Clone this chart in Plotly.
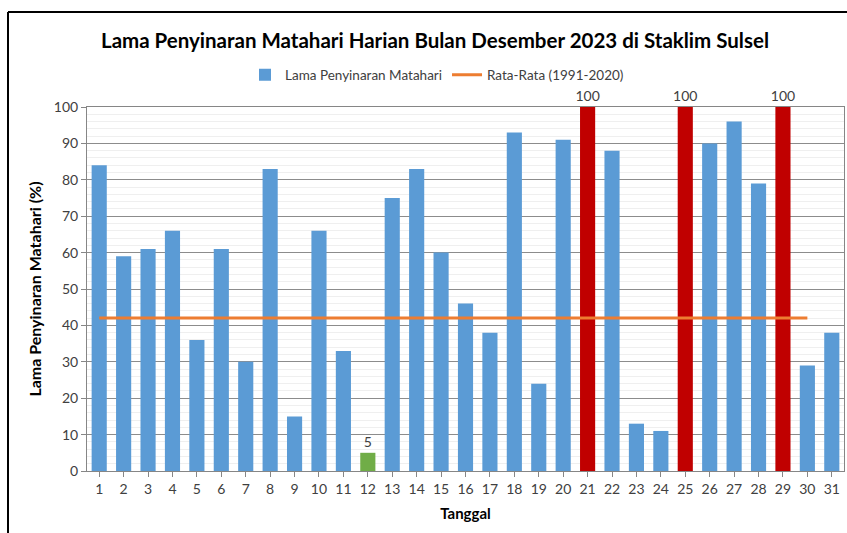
import plotly.graph_objects as go

# data
tanggal = list(range(1, 32))
penyinaran = [84, 59, 61, 66, 36, 61, 30, 83, 15, 66, 33, 5, 75, 83, 60, 46,
              38, 93, 24, 91, 100, 88, 13, 11, 100, 90, 96, 79, 100, 29, 38]
rata_tanggal = list(range(1, 31))
rata_rata = [42, 42, 42, 42, 42, 42, 42, 42, 42, 42, 42, 42, 42, 42, 42,
             42, 42, 42, 42, 42, 42, 42, 42, 42, 42, 42, 42, 42, 42, 42]

BLUE = "#5B9BD5"
RED = "#C00000"
GREEN = "#70AD47"
ORANGE = "#ED7D31"
FONT = "Lato, Open Sans, sans-serif"

lowest = min(penyinaran)
colors = []
labels = []
for v in penyinaran:
    if v == 100:
        colors.append(RED)
        labels.append(str(v))
    elif v == lowest:
        colors.append(GREEN)
        labels.append(str(v))
    else:
        colors.append(BLUE)
        labels.append("")

fig = go.Figure()
fig.add_trace(go.Bar(
    x=tanggal, y=penyinaran, name="Lama Penyinaran Matahari",
    marker=dict(color=colors, line=dict(width=0)),
    text=labels, textposition="outside", cliponaxis=False, constraintext="none",
    textfont=dict(size=14, color="#404040", family=FONT),
))
fig.add_trace(go.Scatter(
    x=rata_tanggal, y=rata_rata, mode="lines", name="Rata-Rata (1991-2020)",
    line=dict(color=ORANGE, width=3),
))

W, H = 847, 533
L, R, T, B = 87, 3, 107, 62
pw, ph = W - L - R, H - T - B

def px_x(p):
    return (p - L) / pw

def px_y(p):
    return (H - B - p) / ph

fig.update_layout(
    width=W, height=H,
    margin=dict(l=L, r=R, t=T, b=B, autoexpand=False),
    paper_bgcolor="white", plot_bgcolor="white",
    font=dict(family=FONT, size=13, color="#404040"),
    bargap=0.38,
    showlegend=True,
    title=dict(
        text="<b>Lama Penyinaran Matahari Harian Bulan Desember 2023 di Staklim Sulsel</b>",
        x=435 / W, xanchor="center", y=1 - 41 / H, yanchor="middle",
        font=dict(size=20.5, color="black", family=FONT),
    ),
    legend=dict(
        orientation="h", x=px_x(437), xanchor="center", y=px_y(75), yanchor="middle",
        font=dict(size=13.5, color="#404040"), bgcolor="rgba(0,0,0,0)",
        itemwidth=30,
    ),
    xaxis=dict(
        range=[0.5, 31.5], tickvals=tanggal, ticks="outside", ticklen=5,
        tickcolor="#868686", showline=True, linecolor="#868686", mirror=True,
        showgrid=False, zeroline=False, tickfont=dict(size=14),
        title=dict(text="<b>Tanggal</b>", font=dict(size=15, color="black"), standoff=12),
    ),
    yaxis=dict(
        range=[0, 100], dtick=10, ticks="outside", ticklen=5, tickcolor="#868686",
        showline=True, linecolor="#868686", mirror=True,
        showgrid=True, gridcolor="#8C8C8C", gridwidth=1, zeroline=False,
        minor=dict(dtick=2, showgrid=True, gridcolor="#EFEFEF", gridwidth=1),
        title=dict(text="<b>Lama Penyinaran Matahari (%)</b>",
                   font=dict(size=16, color="black"), standoff=8),
        tickfont=dict(size=14),
    ),
    shapes=[
        dict(type="line", xref="paper", yref="paper", x0=px_x(8), x1=px_x(860),
             y0=px_y(12), y1=px_y(12), line=dict(color="black", width=2)),
        dict(type="line", xref="paper", yref="paper", x0=px_x(8), x1=px_x(8),
             y0=px_y(12), y1=px_y(545), line=dict(color="black", width=2)),
    ],
)

# drop the default page margin so the figure fills the window exactly
fig.write_html("out.html", config={"displayModeBar": False}, post_script=(
    "document.body.style.margin='0';"
    "document.body.style.overflow='hidden';"
))
